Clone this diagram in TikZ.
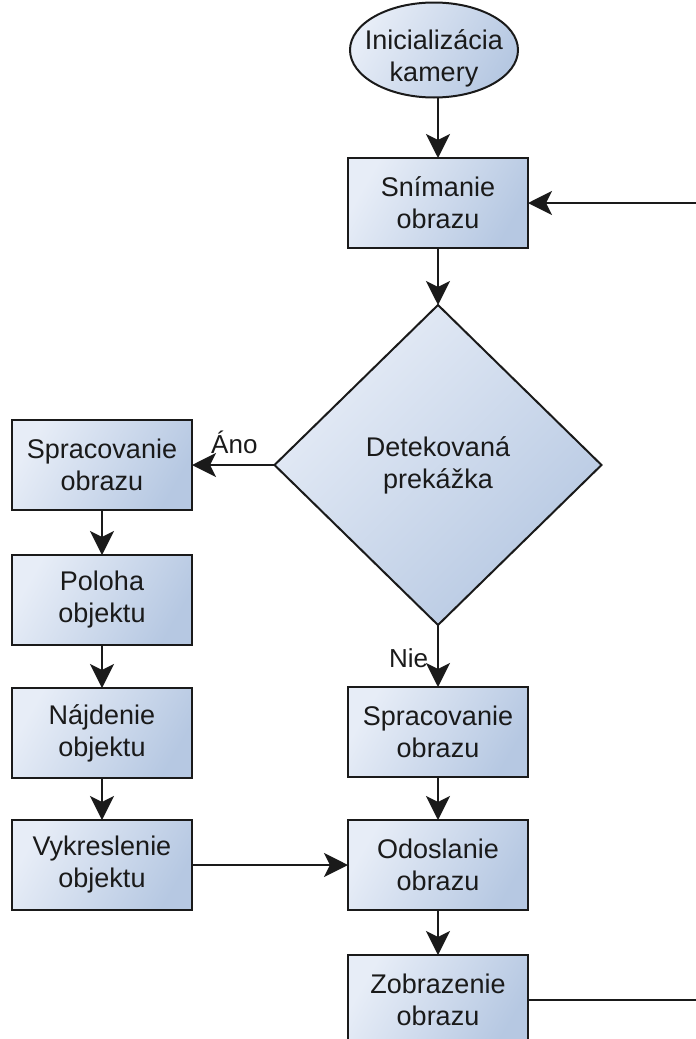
\documentclass[tikz,border=0pt]{standalone}
\usepackage{fontspec}
\setmainfont{Liberation Sans}
\usetikzlibrary{shapes.geometric,arrows.meta}
\definecolor{fillA}{HTML}{E7EDF7}
\definecolor{fillB}{HTML}{B6C8E2}
\definecolor{ink}{HTML}{1A1A1A}
\tikzset{
  base/.style={draw=ink, line width=2pt, text=ink, align=center, inner sep=0pt, outer sep=0pt,
    font=\fontsize{27}{32}\selectfont},
  stepbox/.style={base, rectangle, minimum width=180pt, minimum height=90pt,
    top color=fillA, bottom color=fillB, shading angle=60},
  startnode/.style={base, ellipse, minimum width=168pt, minimum height=95pt,
    inner xsep=-10pt, text height=62pt, text depth=0pt,
    top color=fillA, bottom color=fillB, shading angle=60},
  decision/.style={base, diamond, minimum width=327pt, minimum height=320pt,
    top color=fillA, bottom color=fillB, shading angle=45},
  flow/.style={draw=ink, line width=2pt, -{Stealth[length=24pt, width=24pt, inset=6pt]}},
  lbl/.style={text=ink, inner sep=0pt, font=\fontsize{26}{30}\selectfont}
}
\begin{document}
\begin{tikzpicture}[x=1pt, y=-1pt]
  \useasboundingbox (0,0) rectangle (696,1039);
  \clip (0,0) rectangle (696,1039);

  % main column
  \node[startnode] (init) at (434,50) {Inicializácia\\kamery};
  \node[stepbox] (snim) at (438,203) {Snímanie\\obrazu};
  \node[decision] (det) at (438,465) {Detekovaná\\prekážka};
  \node[stepbox] (spracR) at (438,732) {Spracovanie\\obrazu};
  \node[stepbox] (odos) at (438,865) {Odoslanie\\obrazu};
  \node[stepbox] (zobr) at (438,1000) {Zobrazenie\\obrazu};

  % left column
  \node[stepbox] (spracL) at (102,465) {Spracovanie\\obrazu};
  \node[stepbox] (poloha) at (102,600) {Poloha\\objektu};
  \node[stepbox] (najd) at (102,733) {Nájdenie\\objektu};
  \node[stepbox] (vykr) at (102,865) {Vykreslenie\\objektu};

  % connectors
  \draw[flow] (init.south -| snim.north) -- (snim);
  \draw[flow] (snim) -- (det);
  \draw[flow] (det.west) -- (spracL.east |- det.west);
  \draw[flow] (det) -- (spracR);
  \draw[flow] (spracR) -- (odos);
  \draw[flow] (odos) -- (zobr);
  \draw[flow] (spracL) -- (poloha);
  \draw[flow] (poloha) -- (najd);
  \draw[flow] (najd) -- (vykr);
  \draw[flow] (vykr) -- (odos);

  % loop back from the display step to capture
  \coordinate (loopB) at (720,1000);
  \coordinate (loopT) at (720,203);
  \draw[flow] (zobr.east) -- (loopB) -- (loopT) -- (snim.east);

  % branch labels
  \node[lbl, anchor=base west] (yes) at (211,453) {Áno};
  \node[lbl, anchor=base west] (no) at (389,667) {Nie};
\end{tikzpicture}
\end{document}
